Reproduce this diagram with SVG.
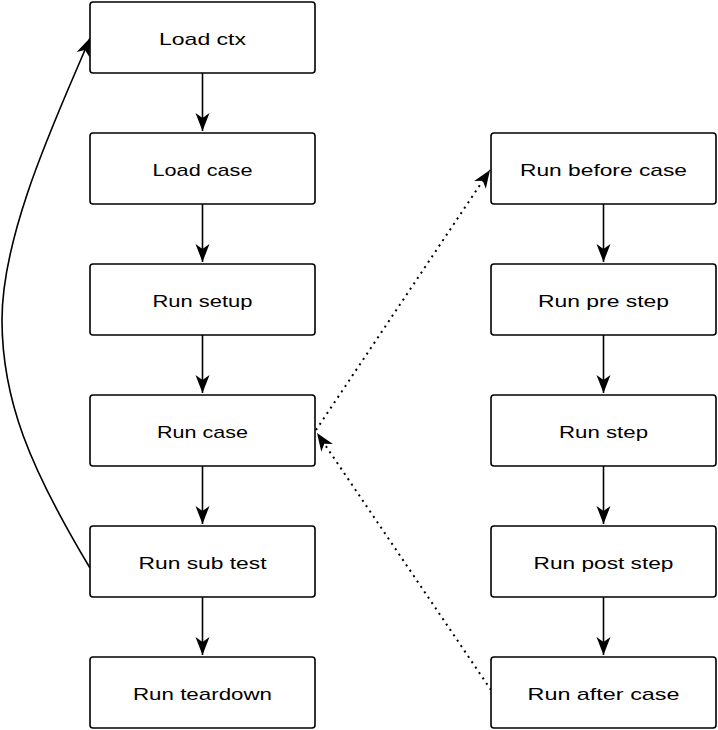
<svg xmlns="http://www.w3.org/2000/svg" width="718" height="730" viewBox="0 0 718 730">
<style>
.box{fill:#fff;stroke:#000;stroke-width:1.6}
.lbl{font-family:"Liberation Sans",Arial,sans-serif;font-size:17px;fill:#000;text-anchor:middle}
.edge{fill:none;stroke:#000;stroke-width:1.6}
.dot{fill:none;stroke:#000;stroke-width:2;stroke-dasharray:2 4.5}
</style>
<defs>
<marker id="ah" markerUnits="userSpaceOnUse" markerWidth="24" markerHeight="20" viewBox="-20 -10 24 20" refX="0" refY="0" orient="auto">
<path d="M-18,-7 L0,0 L-18,7 L-13,0 z" fill="#000"/>
</marker>
</defs>
<g id="connectors">
<line class="edge" x1="202.5" y1="73" x2="202.5" y2="131" marker-end="url(#ah)"/>
<line class="edge" x1="202.5" y1="204" x2="202.5" y2="262" marker-end="url(#ah)"/>
<line class="edge" x1="202.5" y1="335" x2="202.5" y2="393" marker-end="url(#ah)"/>
<line class="edge" x1="202.5" y1="466" x2="202.5" y2="524" marker-end="url(#ah)"/>
<line class="edge" x1="202.5" y1="597" x2="202.5" y2="655" marker-end="url(#ah)"/>
<line class="edge" x1="603.5" y1="204" x2="603.5" y2="262" marker-end="url(#ah)"/>
<line class="edge" x1="603.5" y1="335" x2="603.5" y2="393" marker-end="url(#ah)"/>
<line class="edge" x1="603.5" y1="466" x2="603.5" y2="524" marker-end="url(#ah)"/>
<line class="edge" x1="603.5" y1="597" x2="603.5" y2="655" marker-end="url(#ah)"/>
<path class="edge" d="M90,568 C30,468 2,400 2,320 C2,230 60,110 90,38" marker-end="url(#ah)"/>
<line class="dot" x1="316" y1="430" x2="490" y2="170" marker-end="url(#ah)"/>
<line class="dot" x1="491" y1="690" x2="317" y2="433" marker-end="url(#ah)"/>
</g>
<g id="load-ctx"><rect class="box" x="90" y="2" width="225" height="71" rx="3"/><text class="lbl" x="202.5" y="45" textLength="87" lengthAdjust="spacingAndGlyphs">Load ctx</text></g>
<g id="load-case"><rect class="box" x="90" y="133" width="225" height="71" rx="3"/><text class="lbl" x="202.5" y="176" textLength="100" lengthAdjust="spacingAndGlyphs">Load case</text></g>
<g id="run-setup"><rect class="box" x="90" y="264" width="225" height="71" rx="3"/><text class="lbl" x="202.5" y="307" textLength="100" lengthAdjust="spacingAndGlyphs">Run setup</text></g>
<g id="run-case"><rect class="box" x="90" y="395" width="225" height="71" rx="3"/><text class="lbl" x="202.5" y="438" textLength="91" lengthAdjust="spacingAndGlyphs">Run case</text></g>
<g id="run-sub-test"><rect class="box" x="90" y="526" width="225" height="71" rx="3"/><text class="lbl" x="202.5" y="569" textLength="128" lengthAdjust="spacingAndGlyphs">Run sub test</text></g>
<g id="run-teardown"><rect class="box" x="90" y="657" width="225" height="71" rx="3"/><text class="lbl" x="202.5" y="700" textLength="139" lengthAdjust="spacingAndGlyphs">Run teardown</text></g>
<g id="run-before-case"><rect class="box" x="491" y="133" width="225" height="71" rx="3"/><text class="lbl" x="603.5" y="176" textLength="167" lengthAdjust="spacingAndGlyphs">Run before case</text></g>
<g id="run-pre-step"><rect class="box" x="491" y="264" width="225" height="71" rx="3"/><text class="lbl" x="603.5" y="307" textLength="131" lengthAdjust="spacingAndGlyphs">Run pre step</text></g>
<g id="run-step"><rect class="box" x="491" y="395" width="225" height="71" rx="3"/><text class="lbl" x="603.5" y="438" textLength="89" lengthAdjust="spacingAndGlyphs">Run step</text></g>
<g id="run-post-step"><rect class="box" x="491" y="526" width="225" height="71" rx="3"/><text class="lbl" x="603.5" y="569" textLength="140" lengthAdjust="spacingAndGlyphs">Run post step</text></g>
<g id="run-after-case"><rect class="box" x="491" y="657" width="225" height="71" rx="3"/><text class="lbl" x="603.5" y="700" textLength="152" lengthAdjust="spacingAndGlyphs">Run after case</text></g>
</svg>
